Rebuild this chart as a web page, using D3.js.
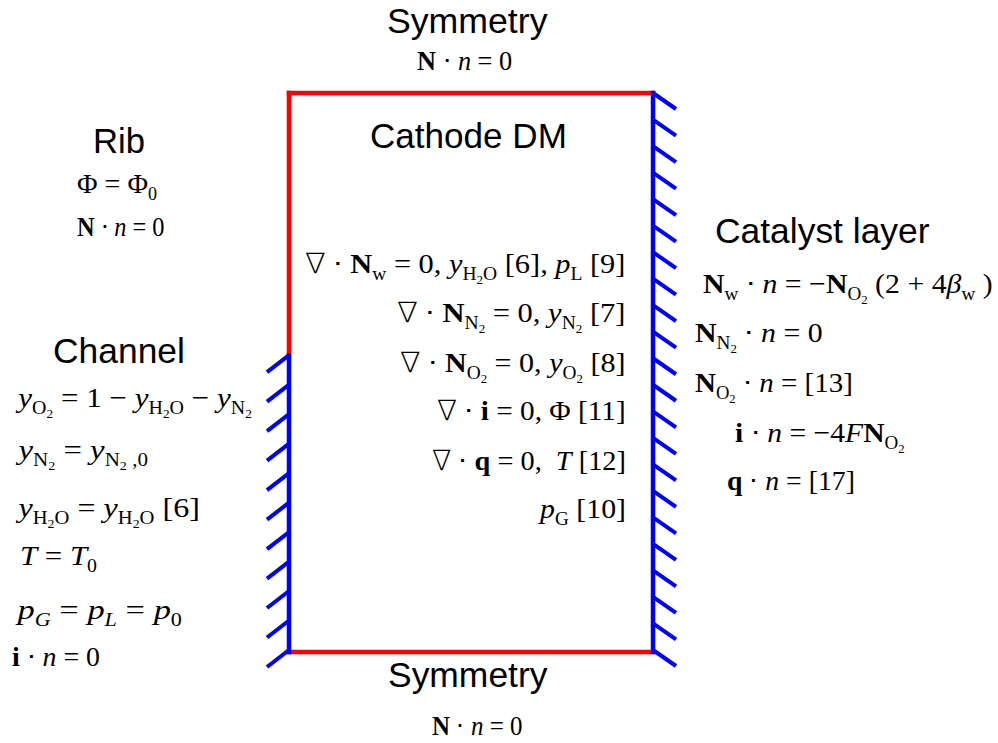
<!DOCTYPE html>
<html>
<head>
<meta charset="utf-8">
<script src="https://cdn.jsdelivr.net/npm/d3@7"></script>
<style>
  body { margin: 0; background: #fff; }
  text { white-space: pre; }
</style>
</head>
<body>
<div id="chart"></div>
<script>
// boundaries of the cathode DM box, in box units (0..1)
var channelStart = 0.469; // where the channel opening starts on the left wall
var redEdges = [[0, 0, 1, 0], [0, 1, 1, 1], [0, 0, 0, channelStart]];
var blueEdges = [[1, 0, 1, 1], [0, channelStart, 0, 1]];
var rightHatches = 22;
var leftHatches = 11;

// equations: [text, style]  r roman, i italic, b bold, s sub, ss sub-sub, si italic sub, n nabla
var centerEqs = [
  [["\u2207", "n"], [" \u22C5 ", "r"], ["N", "b"], ["w", "s"], [" = 0, ", "r"], ["y", "i"], ["H", "s"], ["2", "ss"], ["O", "s"], [" [6], ", "r"], ["p", "i"], ["L", "s"], [" [9]", "r"]],
  [["\u2207", "n"], [" \u22C5 ", "r"], ["N", "b"], ["N", "s"], ["2", "ss"], [" = 0, ", "r"], ["y", "i"], ["N", "s"], ["2", "ss"], [" [7]", "r"]],
  [["\u2207", "n"], [" \u22C5 ", "r"], ["N", "b"], ["O", "s"], ["2", "ss"], [" = 0, ", "r"], ["y", "i"], ["O", "s"], ["2", "ss"], [" [8]", "r"]],
  [["\u2207", "n"], [" \u22C5 ", "r"], ["i", "b"], [" = 0, \u03A6 [11]", "r"]],
  [["\u2207", "n"], [" \u22C5 ", "r"], ["q", "b"], [" = 0,  ", "r"], ["T", "i"], [" [12]", "r"]],
  [["p", "i"], ["G", "s"], [" [10]", "r"]]
];
var centerY = [273, 322, 372, 420, 470, 518];
var centerX = [[305, 626], [397, 626], [400, 626], [437, 626], [432, 626], [538, 626]];

var catalystEqs = [
  [["N", "b"], ["w", "s"], [" \u22C5 ", "r"], ["n", "i"], [" = \u2212", "r"], ["N", "b"], ["O", "s"], ["2", "ss"], [" (2 + 4", "r"], ["\u03B2", "i"], ["w", "s"], [" )", "r"]],
  [["N", "b"], ["N", "s"], ["2", "ss"], [" \u22C5 ", "r"], ["n", "i"], [" = 0", "r"]],
  [["N", "b"], ["O", "s"], ["2", "ss"], [" \u22C5 ", "r"], ["n", "i"], [" = [13]", "r"]],
  [["i", "b"], [" \u22C5 ", "r"], ["n", "i"], [" = \u22124", "r"], ["F", "i"], ["N", "b"], ["O", "s"], ["2", "ss"]],
  [["q", "b"], [" \u22C5 ", "r"], ["n", "i"], [" = [17]", "r"]]
];
var catalystX = [[703, 993], [695, 823], [695, 853], [735, 905], [727, 855]];
var catalystY = [293, 342, 392, 442, 490];

var channelEqs = [
  [["y", "i"], ["O", "s"], ["2", "ss"], [" = 1 \u2212 ", "r"], ["y", "i"], ["H", "s"], ["2", "ss"], ["O", "s"], [" \u2212 ", "r"], ["y", "i"], ["N", "s"], ["2", "ss"]],
  [["y", "i"], ["N", "s"], ["2", "ss"], [" = ", "r"], ["y", "i"], ["N", "s"], ["2", "ss"], [" ,0", "s"]],
  [["y", "i"], ["H", "s"], ["2", "ss"], ["O", "s"], [" = ", "r"], ["y", "i"], ["H", "s"], ["2", "ss"], ["O", "s"], [" [6]", "r"]],
  [["T", "i"], [" = ", "r"], ["T", "i"], ["0", "s"]],
  [["p", "i"], ["G", "si"], [" = ", "r"], ["p", "i"], ["L", "si"], [" = ", "r"], ["p", "i"], ["0", "s"]],
  [["i", "b"], [" \u22C5 ", "r"], ["n", "i"], [" = 0", "r"]]
];
var channelX = [[15, 252], [15, 148], [15, 200], [20, 97], [15, 182], [12, 100]];
var channelY = [407, 459, 517, 565, 619, 666];

var ribEqs = [
  [["\u03A6 = \u03A6", "r"], ["0", "s"]],
  [["N", "b"], [" \u22C5 ", "r"], ["n", "i"], [" = 0", "r"]]
];
var ribX = [[77, 157], [77, 165]];
var ribY = [193, 236];

var symEq = [["N", "b"], [" \u22C5 ", "r"], ["n", "i"], [" = 0", "r"]];
var symX = [[417, 512], [432, 522]];
var symY = [70, 735];

// heading, left, right, baseline
var headings = [
  ["Symmetry", 387, 548, 33],
  ["Cathode DM", 370, 567, 148],
  ["Rib", 93, 145, 153],
  ["Catalyst layer", 715, 930, 243],
  ["Channel", 53, 185, 363],
  ["Symmetry", 388, 548, 687]
];

var width = 998, height = 743;
var sans = "'Liberation Sans', Arial, sans-serif";
var serif = "'Liberation Serif', 'Times New Roman', serif";

var svg = d3.select("#chart").append("svg")
  .attr("width", width)
  .attr("height", height);

var x = d3.scaleLinear().domain([0, 1]).range([289, 653]);
var y = d3.scaleLinear().domain([0, 1]).range([93, 652]);

// hatches on the walls
var hr = d3.scaleLinear().domain([0, rightHatches - 1]).range([y(0), y(1) - 2]);
svg.append("g").selectAll("line")
  .data(d3.range(rightHatches))
  .enter().append("line")
  .attr("x1", x(1)).attr("y1", function(d) { return hr(d) })
  .attr("x2", x(1) + 23).attr("y2", function(d) { return hr(d) + 16 })
  .attr("stroke", "#0000ff").attr("stroke-width", 4);

var hl = d3.scaleLinear().domain([0, leftHatches - 1]).range([y(channelStart), y(1) - 2]);
svg.append("g").selectAll("line")
  .data(d3.range(leftHatches))
  .enter().append("line")
  .attr("x1", x(0)).attr("y1", function(d) { return hl(d) })
  .attr("x2", x(0) - 22).attr("y2", function(d) { return hl(d) + 17 })
  .attr("stroke", "#0000ff").attr("stroke-width", 4);

function edges(data, color) {
  svg.append("g").selectAll("line")
    .data(data)
    .enter().append("line")
    .attr("x1", function(d) { return x(d[0]) })
    .attr("y1", function(d) { return y(d[1]) })
    .attr("x2", function(d) { return x(d[2]) })
    .attr("y2", function(d) { return y(d[3]) })
    .attr("stroke", color)
    .attr("stroke-width", 4.5)
    .attr("stroke-linecap", "square");
}
edges(redEdges, "#ff0000");
edges(blueEdges, "#0000ff");

// stretch a text horizontally so that it spans [left, right], like the original
function fit(t, left, right) {
  var b = t.node().getBBox();
  var k = (right - left) / b.width;
  t.attr("transform", "translate(" + left + ",0) scale(" + k + ",1) translate(" + (-b.x) + ",0)");
}

headings.forEach(function(h) {
  var t = svg.append("text")
    .attr("x", h[1]).attr("y", h[3])
    .style("font-family", sans)
    .style("font-size", "35px")
    .text(h[0]);
  fit(t, h[1], h[2]);
});

function drawEq(ext, py, segs) {
  var t = svg.append("text")
    .attr("x", ext[0]).attr("y", py)
    .style("font-family", serif);
  var cur = 0;
  segs.forEach(function(s) {
    var st = s[1];
    var lvl = st == "ss" ? 2 : (st == "s" || st == "si") ? 1 : 0;
    var off = [0, 7, 11][lvl];
    var ts = t.append("tspan")
      .attr("dy", off - cur)
      .style("font-size", [28, 18, 12][lvl] + "px")
      .style("font-style", (st == "i" || st == "si") ? "italic" : "normal")
      .style("font-weight", st == "b" ? "bold" : "normal")
      .text(s[0]);
    if (st == "n") ts.style("font-family", "'DejaVu Sans'").style("font-weight", 200);
    cur = off;
  });
  fit(t, ext[0], ext[1]);
}

centerEqs.forEach(function(e, i) { drawEq(centerX[i], centerY[i], e) });
catalystEqs.forEach(function(e, i) { drawEq(catalystX[i], catalystY[i], e) });
channelEqs.forEach(function(e, i) { drawEq(channelX[i], channelY[i], e) });
ribEqs.forEach(function(e, i) { drawEq(ribX[i], ribY[i], e) });
drawEq(symX[0], symY[0], symEq);
drawEq(symX[1], symY[1], symEq);
</script>
</body>
</html>
